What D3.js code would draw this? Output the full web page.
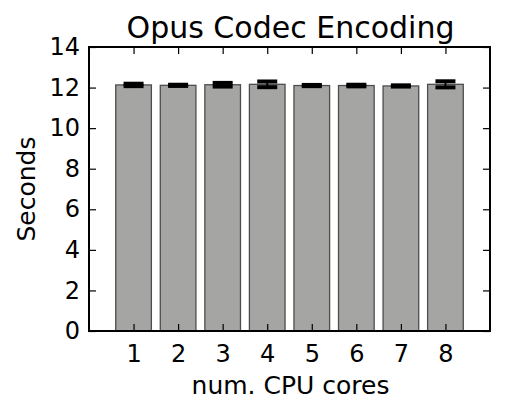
<!DOCTYPE html>
<html><head><meta charset="utf-8">
<script src="https://cdn.jsdelivr.net/npm/d3@7"></script>
<style>body{margin:0;background:#fff}svg text{font-family:"DejaVu Sans",sans-serif;fill:#000}</style>
</head><body>
<svg id="c" width="506" height="415"></svg>
<script>
const categories = [1, 2, 3, 4, 5, 6, 7, 8];
const meanSeconds = [12.13, 12.11, 12.14, 12.16, 12.10, 12.10, 12.08, 12.16];
const errSeconds = [0.06, 0.03, 0.09, 0.14, 0.03, 0.04, 0.03, 0.15];
const yTicks = [0, 2, 4, 6, 8, 10, 12, 14];
const title = "Opus Codec Encoding";
const xLabel = "num. CPU cores";
const yLabel = "Seconds";

const svg = d3.select("#c");
const L = 89, R = 490, T = 47, B = 331;
const x = d3.scaleLinear().domain([0, 9]).range([L, R]);
const y = d3.scaleLinear().domain([0, 14]).range([B, T]);
const barW = x(0.8) - x(0);

// bars
svg.append("g").selectAll("rect").data(categories).join("rect")
  .attr("x", (d) => x(d) - barW / 2)
  .attr("y", (d, i) => y(meanSeconds[i]))
  .attr("width", barW)
  .attr("height", (d, i) => y(0) - y(meanSeconds[i]))
  .attr("fill", "#a5a6a3").attr("stroke", "#4d4d4d").attr("stroke-width", 1.3);

// error bars
const eg = svg.append("g").attr("stroke", "#000");
categories.forEach((c, i) => {
  const cx = x(c), lo = y(meanSeconds[i] - errSeconds[i]), hi = y(meanSeconds[i] + errSeconds[i]);
  eg.append("line").attr("x1", cx).attr("x2", cx).attr("y1", lo).attr("y2", hi).attr("stroke-width", 2);
  [lo, hi].forEach(v => eg.append("line").attr("x1", cx - 10).attr("x2", cx + 10).attr("y1", v).attr("y2", v).attr("stroke-width", 4));
});

// axes (inward ticks, classic style)
const fmt = d3.format("d");
const ax = svg.append("g");
const yl = d3.axisLeft(y).tickValues(yTicks).tickFormat(fmt).tickSizeInner(-7).tickSizeOuter(0).tickPadding(9);
const yr = d3.axisRight(y).tickValues(yTicks).tickFormat("").tickSizeInner(-7).tickSizeOuter(0);
const xb = d3.axisBottom(x).tickValues(categories).tickFormat(fmt).tickSizeInner(-7).tickSizeOuter(0).tickPadding(14);
const xt = d3.axisTop(x).tickValues(categories).tickFormat("").tickSizeInner(-7).tickSizeOuter(0);
const gl = ax.append("g").attr("transform", `translate(${L},0)`).call(yl);
const gr = ax.append("g").attr("transform", `translate(${R},0)`).call(yr);
const gb = ax.append("g").attr("transform", `translate(0,${B})`).call(xb);
const gt = ax.append("g").attr("transform", `translate(0,${T})`).call(xt);
[gl, gr, gb, gt].forEach(g => {
  g.select(".domain").remove();
  g.selectAll(".tick line").attr("stroke", "#000").attr("stroke-width", 1.2);
  g.selectAll("text").attr("font-size", 24).attr("font-family", "DejaVu Sans");
});
gb.selectAll("text").attr("dy", "0.71em");
svg.append("rect").attr("x", L).attr("y", T).attr("width", R - L).attr("height", B - T)
  .attr("fill", "none").attr("stroke", "#000").attr("stroke-width", 2);

svg.append("text").attr("x", (L + R) / 2 + 1).attr("y", 38).attr("text-anchor", "middle")
  .attr("font-size", 30).text(title);
svg.append("text").attr("x", (L + R) / 2 + 1).attr("y", 394).attr("text-anchor", "middle")
  .attr("font-size", 25).text(xLabel);
svg.append("text").attr("transform", `translate(35,${(T + B) / 2}) rotate(-90)`).attr("text-anchor", "middle")
  .attr("font-size", 25).text(yLabel);
</script>
</body></html>
